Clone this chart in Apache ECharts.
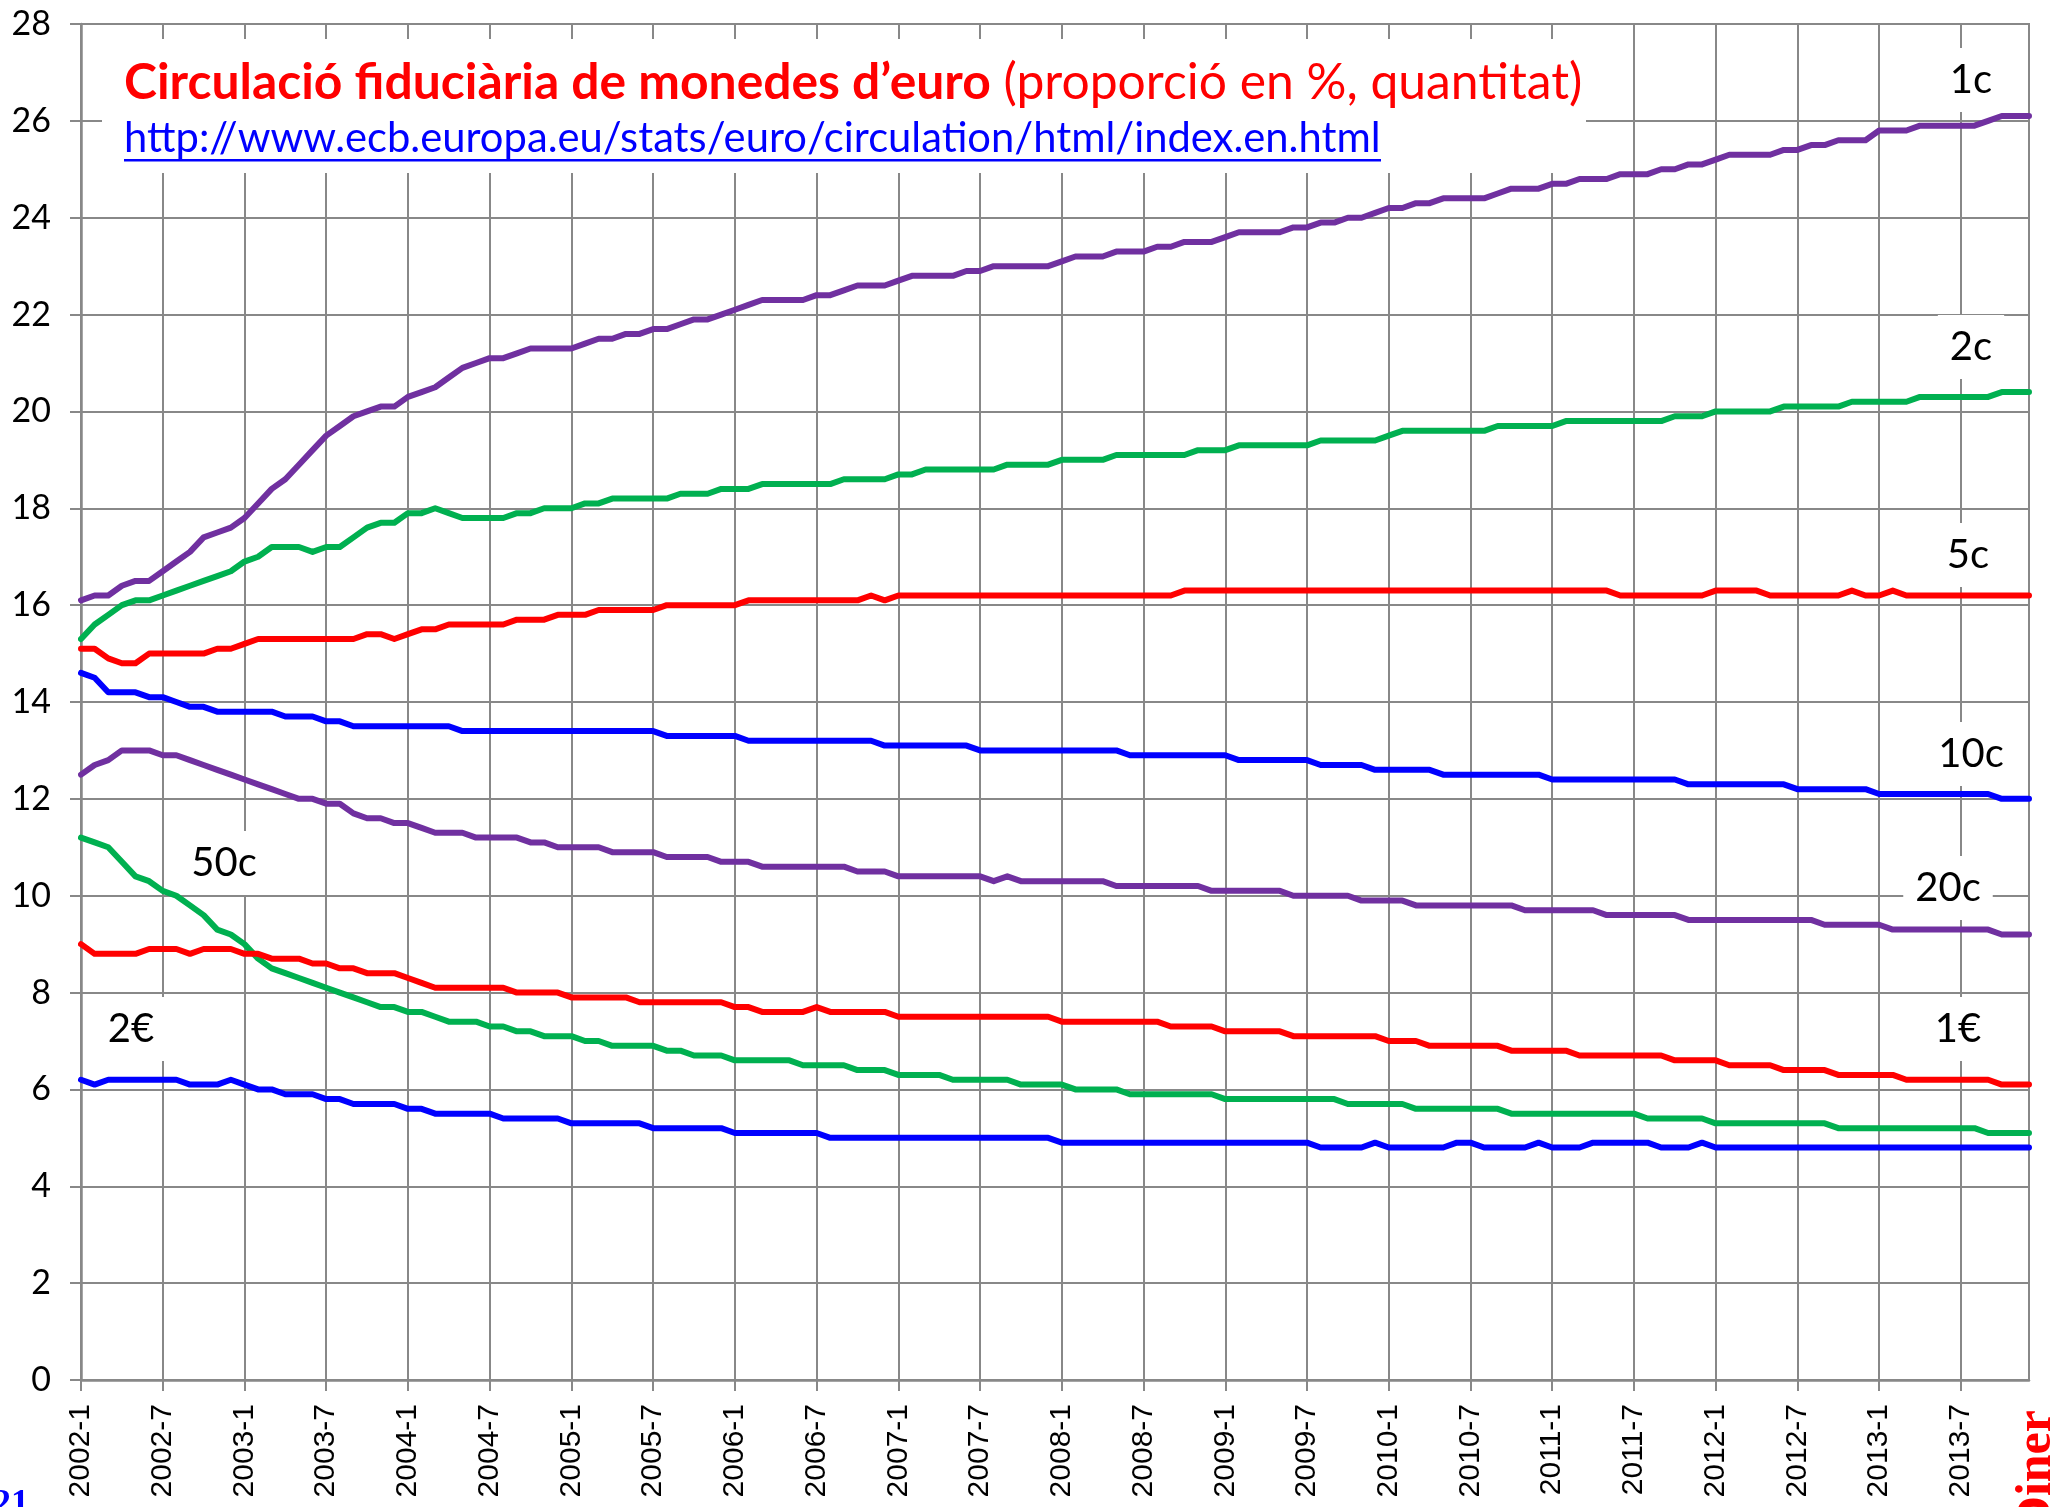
<!DOCTYPE html>
<html>
<head>
    <meta charset="utf-8">
    <title>Circulació fiduciària de monedes d'euro</title>
    <script src="https://cdn.jsdelivr.net/npm/echarts@6/dist/echarts.min.js"></script>
    <style>
        html, body { margin: 0; padding: 0; background: #fff; }
        #chart1 { width: 2058px; height: 1507px; }
    </style>
</head>
<body>
<div id="chart1"></div>
<script type="text/javascript">
    // categories: 2002-1 .. 2013-12, one point a month
    var years = [2002, 2003, 2004, 2005, 2006, 2007, 2008, 2009, 2010, 2011, 2012, 2013];
    var months = [];
    years.forEach(function (y) {
        for (var m = 1; m <= 12; m++) months.push(y + '-' + m);
    });

    // share of each coin in circulation, % of quantity (one row per year)
    var c1 = [
        16.1,16.2,16.2,16.4,16.5,16.5,16.7,16.9,17.1,17.4,17.5,17.6,
        17.8,18.1,18.4,18.6,18.9,19.2,19.5,19.7,19.9,20.0,20.1,20.1,
        20.3,20.4,20.5,20.7,20.9,21.0,21.1,21.1,21.2,21.3,21.3,21.3,
        21.3,21.4,21.5,21.5,21.6,21.6,21.7,21.7,21.8,21.9,21.9,22.0,
        22.1,22.2,22.3,22.3,22.3,22.3,22.4,22.4,22.5,22.6,22.6,22.6,
        22.7,22.8,22.8,22.8,22.8,22.9,22.9,23.0,23.0,23.0,23.0,23.0,
        23.1,23.2,23.2,23.2,23.3,23.3,23.3,23.4,23.4,23.5,23.5,23.5,
        23.6,23.7,23.7,23.7,23.7,23.8,23.8,23.9,23.9,24.0,24.0,24.1,
        24.2,24.2,24.3,24.3,24.4,24.4,24.4,24.4,24.5,24.6,24.6,24.6,
        24.7,24.7,24.8,24.8,24.8,24.9,24.9,24.9,25.0,25.0,25.1,25.1,
        25.2,25.3,25.3,25.3,25.3,25.4,25.4,25.5,25.5,25.6,25.6,25.6,
        25.8,25.8,25.8,25.9,25.9,25.9,25.9,25.9,26.0,26.1,26.1,26.1
    ];
    var c2 = [
        15.3,15.6,15.8,16.0,16.1,16.1,16.2,16.3,16.4,16.5,16.6,16.7,
        16.9,17.0,17.2,17.2,17.2,17.1,17.2,17.2,17.4,17.6,17.7,17.7,
        17.9,17.9,18.0,17.9,17.8,17.8,17.8,17.8,17.9,17.9,18.0,18.0,
        18.0,18.1,18.1,18.2,18.2,18.2,18.2,18.2,18.3,18.3,18.3,18.4,
        18.4,18.4,18.5,18.5,18.5,18.5,18.5,18.5,18.6,18.6,18.6,18.6,
        18.7,18.7,18.8,18.8,18.8,18.8,18.8,18.8,18.9,18.9,18.9,18.9,
        19.0,19.0,19.0,19.0,19.1,19.1,19.1,19.1,19.1,19.1,19.2,19.2,
        19.2,19.3,19.3,19.3,19.3,19.3,19.3,19.4,19.4,19.4,19.4,19.4,
        19.5,19.6,19.6,19.6,19.6,19.6,19.6,19.6,19.7,19.7,19.7,19.7,
        19.7,19.8,19.8,19.8,19.8,19.8,19.8,19.8,19.8,19.9,19.9,19.9,
        20.0,20.0,20.0,20.0,20.0,20.1,20.1,20.1,20.1,20.1,20.2,20.2,
        20.2,20.2,20.2,20.3,20.3,20.3,20.3,20.3,20.3,20.4,20.4,20.4
    ];
    var c5 = [
        15.1,15.1,14.9,14.8,14.8,15.0,15.0,15.0,15.0,15.0,15.1,15.1,
        15.2,15.3,15.3,15.3,15.3,15.3,15.3,15.3,15.3,15.4,15.4,15.3,
        15.4,15.5,15.5,15.6,15.6,15.6,15.6,15.6,15.7,15.7,15.7,15.8,
        15.8,15.8,15.9,15.9,15.9,15.9,15.9,16.0,16.0,16.0,16.0,16.0,
        16.0,16.1,16.1,16.1,16.1,16.1,16.1,16.1,16.1,16.1,16.2,16.1,
        16.2,16.2,16.2,16.2,16.2,16.2,16.2,16.2,16.2,16.2,16.2,16.2,
        16.2,16.2,16.2,16.2,16.2,16.2,16.2,16.2,16.2,16.3,16.3,16.3,
        16.3,16.3,16.3,16.3,16.3,16.3,16.3,16.3,16.3,16.3,16.3,16.3,
        16.3,16.3,16.3,16.3,16.3,16.3,16.3,16.3,16.3,16.3,16.3,16.3,
        16.3,16.3,16.3,16.3,16.3,16.2,16.2,16.2,16.2,16.2,16.2,16.2,
        16.3,16.3,16.3,16.3,16.2,16.2,16.2,16.2,16.2,16.2,16.3,16.2,
        16.2,16.3,16.2,16.2,16.2,16.2,16.2,16.2,16.2,16.2,16.2,16.2
    ];
    var c10 = [
        14.6,14.5,14.2,14.2,14.2,14.1,14.1,14.0,13.9,13.9,13.8,13.8,
        13.8,13.8,13.8,13.7,13.7,13.7,13.6,13.6,13.5,13.5,13.5,13.5,
        13.5,13.5,13.5,13.5,13.4,13.4,13.4,13.4,13.4,13.4,13.4,13.4,
        13.4,13.4,13.4,13.4,13.4,13.4,13.4,13.3,13.3,13.3,13.3,13.3,
        13.3,13.2,13.2,13.2,13.2,13.2,13.2,13.2,13.2,13.2,13.2,13.1,
        13.1,13.1,13.1,13.1,13.1,13.1,13.0,13.0,13.0,13.0,13.0,13.0,
        13.0,13.0,13.0,13.0,13.0,12.9,12.9,12.9,12.9,12.9,12.9,12.9,
        12.9,12.8,12.8,12.8,12.8,12.8,12.8,12.7,12.7,12.7,12.7,12.6,
        12.6,12.6,12.6,12.6,12.5,12.5,12.5,12.5,12.5,12.5,12.5,12.5,
        12.4,12.4,12.4,12.4,12.4,12.4,12.4,12.4,12.4,12.4,12.3,12.3,
        12.3,12.3,12.3,12.3,12.3,12.3,12.2,12.2,12.2,12.2,12.2,12.2,
        12.1,12.1,12.1,12.1,12.1,12.1,12.1,12.1,12.1,12.0,12.0,12.0
    ];
    var c20 = [
        12.5,12.7,12.8,13.0,13.0,13.0,12.9,12.9,12.8,12.7,12.6,12.5,
        12.4,12.3,12.2,12.1,12.0,12.0,11.9,11.9,11.7,11.6,11.6,11.5,
        11.5,11.4,11.3,11.3,11.3,11.2,11.2,11.2,11.2,11.1,11.1,11.0,
        11.0,11.0,11.0,10.9,10.9,10.9,10.9,10.8,10.8,10.8,10.8,10.7,
        10.7,10.7,10.6,10.6,10.6,10.6,10.6,10.6,10.6,10.5,10.5,10.5,
        10.4,10.4,10.4,10.4,10.4,10.4,10.4,10.3,10.4,10.3,10.3,10.3,
        10.3,10.3,10.3,10.3,10.2,10.2,10.2,10.2,10.2,10.2,10.2,10.1,
        10.1,10.1,10.1,10.1,10.1,10.0,10.0,10.0,10.0,10.0,9.9,9.9,
        9.9,9.9,9.8,9.8,9.8,9.8,9.8,9.8,9.8,9.8,9.7,9.7,
        9.7,9.7,9.7,9.7,9.6,9.6,9.6,9.6,9.6,9.6,9.5,9.5,
        9.5,9.5,9.5,9.5,9.5,9.5,9.5,9.5,9.4,9.4,9.4,9.4,
        9.4,9.3,9.3,9.3,9.3,9.3,9.3,9.3,9.3,9.2,9.2,9.2
    ];
    var c50 = [
        11.2,11.1,11.0,10.7,10.4,10.3,10.1,10.0,9.8,9.6,9.3,9.2,
        9.0,8.7,8.5,8.4,8.3,8.2,8.1,8.0,7.9,7.8,7.7,7.7,
        7.6,7.6,7.5,7.4,7.4,7.4,7.3,7.3,7.2,7.2,7.1,7.1,
        7.1,7.0,7.0,6.9,6.9,6.9,6.9,6.8,6.8,6.7,6.7,6.7,
        6.6,6.6,6.6,6.6,6.6,6.5,6.5,6.5,6.5,6.4,6.4,6.4,
        6.3,6.3,6.3,6.3,6.2,6.2,6.2,6.2,6.2,6.1,6.1,6.1,
        6.1,6.0,6.0,6.0,6.0,5.9,5.9,5.9,5.9,5.9,5.9,5.9,
        5.8,5.8,5.8,5.8,5.8,5.8,5.8,5.8,5.8,5.7,5.7,5.7,
        5.7,5.7,5.6,5.6,5.6,5.6,5.6,5.6,5.6,5.5,5.5,5.5,
        5.5,5.5,5.5,5.5,5.5,5.5,5.5,5.4,5.4,5.4,5.4,5.4,
        5.3,5.3,5.3,5.3,5.3,5.3,5.3,5.3,5.3,5.2,5.2,5.2,
        5.2,5.2,5.2,5.2,5.2,5.2,5.2,5.2,5.1,5.1,5.1,5.1
    ];
    var e1 = [
        9.0,8.8,8.8,8.8,8.8,8.9,8.9,8.9,8.8,8.9,8.9,8.9,
        8.8,8.8,8.7,8.7,8.7,8.6,8.6,8.5,8.5,8.4,8.4,8.4,
        8.3,8.2,8.1,8.1,8.1,8.1,8.1,8.1,8.0,8.0,8.0,8.0,
        7.9,7.9,7.9,7.9,7.9,7.8,7.8,7.8,7.8,7.8,7.8,7.8,
        7.7,7.7,7.6,7.6,7.6,7.6,7.7,7.6,7.6,7.6,7.6,7.6,
        7.5,7.5,7.5,7.5,7.5,7.5,7.5,7.5,7.5,7.5,7.5,7.5,
        7.4,7.4,7.4,7.4,7.4,7.4,7.4,7.4,7.3,7.3,7.3,7.3,
        7.2,7.2,7.2,7.2,7.2,7.1,7.1,7.1,7.1,7.1,7.1,7.1,
        7.0,7.0,7.0,6.9,6.9,6.9,6.9,6.9,6.9,6.8,6.8,6.8,
        6.8,6.8,6.7,6.7,6.7,6.7,6.7,6.7,6.7,6.6,6.6,6.6,
        6.6,6.5,6.5,6.5,6.5,6.4,6.4,6.4,6.4,6.3,6.3,6.3,
        6.3,6.3,6.2,6.2,6.2,6.2,6.2,6.2,6.2,6.1,6.1,6.1
    ];
    var e2 = [
        6.2,6.1,6.2,6.2,6.2,6.2,6.2,6.2,6.1,6.1,6.1,6.2,
        6.1,6.0,6.0,5.9,5.9,5.9,5.8,5.8,5.7,5.7,5.7,5.7,
        5.6,5.6,5.5,5.5,5.5,5.5,5.5,5.4,5.4,5.4,5.4,5.4,
        5.3,5.3,5.3,5.3,5.3,5.3,5.2,5.2,5.2,5.2,5.2,5.2,
        5.1,5.1,5.1,5.1,5.1,5.1,5.1,5.0,5.0,5.0,5.0,5.0,
        5.0,5.0,5.0,5.0,5.0,5.0,5.0,5.0,5.0,5.0,5.0,5.0,
        4.9,4.9,4.9,4.9,4.9,4.9,4.9,4.9,4.9,4.9,4.9,4.9,
        4.9,4.9,4.9,4.9,4.9,4.9,4.9,4.8,4.8,4.8,4.8,4.9,
        4.8,4.8,4.8,4.8,4.8,4.9,4.9,4.8,4.8,4.8,4.8,4.9,
        4.8,4.8,4.8,4.9,4.9,4.9,4.9,4.9,4.8,4.8,4.8,4.9,
        4.8,4.8,4.8,4.8,4.8,4.8,4.8,4.8,4.8,4.8,4.8,4.8,
        4.8,4.8,4.8,4.8,4.8,4.8,4.8,4.8,4.8,4.8,4.8,4.8
    ];

    var purple = '#7030A0', green = '#00B050', red = '#FF0000', blue = '#0000FF';

    // title texts, sized to the width they take in the picture
    var titleBold = 'Circulació fiduciària de monedes d\u2019euro';
    var titleNorm = ' (proporció en %, quantitat)';
    var url = 'http://www.ecb.europa.eu/stats/euro/circulation/html/index.en.html';

    var ctx = document.createElement('canvas').getContext('2d');
    function textW(s, font) { ctx.font = font; return ctx.measureText(s).width; }
    var titleSize = 40 * 1459 / (textW(titleBold, 'bold 40px Lato') + textW(titleNorm, '40px Lato'));
    var urlSize = 40 * 1257 / textW(url, '40px Lato');

    // coin labels with their white boxes
    var labels = [
        {t: '1c', x: 1971, y: 80},
        {t: '2c', x: 1971, y: 347},
        {t: '5c', x: 1968, y: 555},
        {t: '10c', x: 1971, y: 754},
        {t: '20c', x: 1948, y: 888},
        {t: '1€', x: 1958, y: 1029},
        {t: '50c', x: 224, y: 863},
        {t: '2€', x: 131, y: 1029}
    ];

    var graphics = [
        {type: 'rect', z: 5, shape: {x: 102, y: 39, width: 1484, height: 134}, style: {fill: '#fff'}},
        {
            type: 'text', z: 6, x: 124, y: 83,
            style: {
                text: '{b|' + titleBold + '}{n|' + titleNorm + '}',
                verticalAlign: 'middle',
                rich: {
                    b: {fontSize: titleSize, fontWeight: 'bold', fontFamily: 'Lato', fill: red},
                    n: {fontSize: titleSize, fontFamily: 'Lato', fill: red}
                }
            }
        },
        {
            type: 'text', z: 6, x: 124, y: 139,
            style: {text: url, fontSize: urlSize, fontFamily: 'Lato', fill: blue, verticalAlign: 'middle'}
        },
        {type: 'rect', z: 6, shape: {x: 124, y: 159, width: 1257, height: 2.5}, style: {fill: blue}},
        {
            type: 'text', z: 6, x: 29, y: 1487,
            style: {text: '21', fontSize: 36, fontWeight: 'bold', fontFamily: 'Liberation Serif', fill: blue, align: 'right', verticalAlign: 'top'}
        },
        {
            type: 'text', z: 6, x: 2062, y: 1410, rotation: Math.PI / 2,
            style: {text: 'Diner', fontSize: 50, fontWeight: 'bold', fontFamily: 'Liberation Serif', fill: red, align: 'right', verticalAlign: 'bottom'}
        }
    ];
    labels.forEach(function (l) {
        graphics.push({
            type: 'text', z: 5, x: l.x, y: l.y,
            style: {
                text: l.t, fontSize: 40, fontFamily: 'Lato', fill: '#000',
                align: 'center', verticalAlign: 'middle',
                backgroundColor: '#fff', padding: [12, 12]
            }
        });
    });

    function line(name, data, color) {
        return {
            name: name, type: 'line', data: data, z: 10,
            showSymbol: false, symbol: 'none',
            lineStyle: {color: color, width: 6, cap: 'round', join: 'round'}
        };
    }

    var myChart1 = echarts.init(document.getElementById('chart1'));
    myChart1.setOption({
        animation: false,
        backgroundColor: '#fff',
        grid: {left: 81, right: 29, top: 24, bottom: 127, show: true, borderColor: '#888', borderWidth: 2},
        xAxis: {
            type: 'category',
            data: months,
            boundaryGap: false,
            axisLine: {lineStyle: {color: '#888', width: 2.5}},
            axisTick: {show: true, interval: 5, length: 11, lineStyle: {color: '#888', width: 2}},
            axisLabel: {interval: 5, rotate: 90, margin: 24, fontSize: 30, fontFamily: 'Liberation Sans', color: '#000'},
            splitLine: {show: true, interval: 5, lineStyle: {color: '#888', width: 2}}
        },
        yAxis: {
            type: 'value',
            min: 0, max: 28, interval: 2,
            axisLine: {show: true, lineStyle: {color: '#888', width: 2.5}},
            axisTick: {show: true, length: 11, lineStyle: {color: '#888', width: 2}},
            axisLabel: {margin: 30, fontSize: 34, fontFamily: 'Lato', color: '#000'},
            splitLine: {lineStyle: {color: '#888', width: 2}}
        },
        graphic: graphics,
        series: [
            line('1c', c1, purple),
            line('2c', c2, green),
            line('5c', c5, red),
            line('10c', c10, blue),
            line('20c', c20, purple),
            line('50c', c50, green),
            line('1€', e1, red),
            line('2€', e2, blue)
        ]
    });
</script>
</body>
</html>
